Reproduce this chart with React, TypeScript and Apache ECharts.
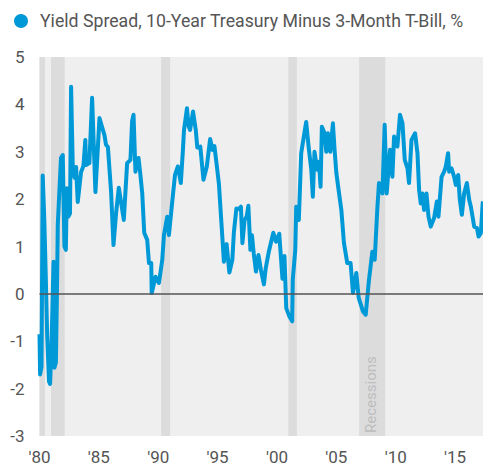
import React, { useEffect, useRef } from "react";
import * as echarts from "echarts";

const years = [
  1980.0, 1980.05, 1980.17, 1980.27, 1980.4, 1980.52, 1980.65, 1980.8, 1980.89, 1981.0,
  1981.18, 1981.26, 1981.38, 1981.46, 1981.54, 1981.68, 1981.81, 1981.96, 1982.1, 1982.22,
  1982.3, 1982.43, 1982.57, 1982.66, 1982.8, 1982.95, 1983.08, 1983.22, 1983.5, 1983.7,
  1983.86, 1983.92, 1984.2, 1984.43, 1984.71, 1985.05, 1985.27, 1985.47, 1985.6, 1985.76,
  1986.03, 1986.23, 1986.46, 1986.68, 1987.1, 1987.38, 1987.66, 1987.8, 1987.92, 1988.08,
  1988.34, 1988.48, 1988.65, 1988.82, 1989.07, 1989.22, 1989.41, 1989.45, 1989.77, 1990.06,
  1990.34, 1990.48, 1990.76, 1990.9, 1991.18, 1991.41, 1991.65, 1991.9, 1992.08, 1992.17,
  1992.42, 1992.55, 1992.68, 1992.93, 1993.16, 1993.29, 1993.54, 1993.81, 1994.09, 1994.37,
  1994.56, 1994.73, 1994.94, 1995.11, 1995.32, 1995.53, 1995.76, 1995.99, 1996.24, 1996.37,
  1996.58, 1996.79, 1996.96, 1997.09, 1997.27, 1997.45, 1997.59, 1997.76, 1997.89, 1998.04,
  1998.23, 1998.44, 1998.65, 1998.9, 1999.05, 1999.32, 1999.69, 1999.92, 2000.19, 2000.46,
  2000.63, 2000.78, 2001.05, 2001.28, 2001.33, 2001.54, 2001.62, 2001.84, 2002.04, 2002.26,
  2002.46, 2002.66, 2002.89, 2003.02, 2003.16, 2003.39, 2003.53, 2003.67, 2003.78, 2004.01,
  2004.15, 2004.29, 2004.49, 2004.71, 2004.85, 2005.0, 2005.19, 2005.42, 2005.64, 2005.92,
  2006.2, 2006.4, 2006.68, 2006.88, 2007.24, 2007.47, 2007.75, 2008.03, 2008.23, 2008.46,
  2008.59, 2008.88, 2009.07, 2009.24, 2009.52, 2009.72, 2009.86, 2010.14, 2010.36, 2010.57,
  2010.76, 2010.99, 2011.12, 2011.33, 2011.63, 2011.83, 2011.97, 2012.11, 2012.25, 2012.39,
  2012.59, 2012.76, 2012.95, 2013.23, 2013.46, 2013.6, 2013.86, 2014.08, 2014.22, 2014.41,
  2014.5, 2014.7, 2014.92, 2015.06, 2015.26, 2015.4, 2015.57, 2015.76, 2015.99, 2016.19,
  2016.33, 2016.61, 2016.84, 2016.98, 2017.17, 2017.32, 2017.35,
];

const spread = [
  -0.85, -1.7, -1.55, 2.5, 1.6, 0.45, -0.9, -1.85, -1.9, -1.2,
  0.68, -1.56, -1.45, -0.17, 1.46, 2.2, 2.87, 2.93, 1.0, 0.93,
  2.23, 1.63, 1.7, 4.37, 2.72, 2.45, 2.68, 1.94, 2.57, 2.7,
  3.25, 2.72, 2.76, 4.14, 2.15, 3.71, 3.52, 3.35, 3.15, 3.1,
  2.15, 1.03, 1.73, 2.24, 1.56, 2.76, 2.83, 3.65, 3.78, 2.58,
  2.87, 2.55, 2.13, 1.29, 1.14, 0.65, 0.65, 0.02, 0.36, 0.23,
  0.72, 1.24, 1.63, 1.24, 1.95, 2.51, 2.69, 2.34, 3.04, 3.46,
  3.92, 3.55, 3.46, 3.85, 3.46, 3.09, 3.11, 2.41, 2.69, 3.27,
  3.04, 3.12, 2.69, 2.32, 1.5, 0.68, 1.05, 0.45, 0.72, 1.3,
  1.8, 1.79, 1.84, 1.07, 1.56, 1.63, 1.86, 0.93, 1.24, 0.86,
  0.47, 0.82, 0.5, 0.2, 0.54, 0.9, 1.29, 1.1, 1.27, 0.32,
  0.8, -0.3, -0.48, -0.58, 0.3, 0.93, 1.84, 1.56, 2.97, 3.32,
  3.63, 3.11, 2.62, 2.05, 3.0, 2.62, 2.79, 2.26, 3.53, 3.39,
  3.0, 3.39, 3.0, 3.6, 3.04, 2.55, 2.19, 1.77, 1.07, 0.65,
  0.65, 0.02, 0.44, -0.08, -0.37, -0.44, 0.3, 0.89, 0.72, 1.84,
  2.34, 2.12, 3.57, 2.12, 3.04, 2.47, 3.32, 3.11, 3.78, 3.6,
  2.83, 2.65, 2.34, 3.25, 3.39, 2.97, 2.19, 1.91, 2.12, 1.77,
  2.12, 1.63, 1.42, 1.6, 1.95, 1.63, 2.47, 2.58, 2.69, 2.97,
  2.58, 2.65, 2.47, 2.3, 2.51, 1.98, 1.67, 2.12, 2.34, 1.98,
  1.84, 1.42, 1.39, 1.21, 1.28, 1.91, 1.95,
];

const recessionStart = [1980.0, 1980.97, 1990.24, 2000.96, 2006.92];
const recessionEnd = [1980.46, 1982.12, 1991.0, 2001.67, 2009.12];

const seriesName = "Yield Spread, 10-Year Treasury Minus 3-Month T-Bill, %";
const recessionLabel = "Recessions";

const FONT = "'Roboto', sans-serif";

export default function App() {
  const ref = useRef<HTMLDivElement>(null);
  useEffect(() => {
    if (!ref.current) return;
    const chart = echarts.init(ref.current, undefined, { renderer: "svg" });
    const data = years.map((y, i) => [y, spread[i]]);
    chart.setOption({
      animation: false,
      backgroundColor: "#ffffff",
      legend: {
        left: 9,
        top: 7,
        icon: "circle",
        itemWidth: 14,
        itemHeight: 14,
        textStyle: {
          color: "#555555",
          fontSize: 17.7,
          fontFamily: FONT,
          padding: [0, 0, 0, 7],
        },
        data: [seriesName],
      },
      grid: {
        left: 39.5,
        right: 0,
        top: 57,
        bottom: 30,
        show: true,
        backgroundColor: "#efefef",
        borderWidth: 0,
      },
      xAxis: {
        type: "value",
        min: 1980,
        max: 2017.35,
        interval: 5,
        axisLine: { show: false },
        axisTick: { show: false },
        splitLine: { show: false },
        axisLabel: {
          color: "#555555",
          fontSize: 17,
          fontFamily: FONT,
          margin: 12,
          showMaxLabel: false,
          formatter: (v: number) => "'" + String(Math.round(v)).slice(2),
        },
      },
      yAxis: {
        type: "value",
        min: -3,
        max: 5,
        interval: 1,
        axisLine: { show: false },
        axisTick: { show: false },
        splitLine: { show: false },
        axisLabel: { color: "#555555", fontSize: 17, fontFamily: FONT, margin: 15 },
      },
      graphic: [
        {
          type: "text",
          x: 371,
          y: 433,
          rotation: Math.PI / 2,
          z: 5,
          style: {
            text: recessionLabel,
            fill: "#bdbdbd",
            fontSize: 15,
            fontFamily: FONT,
            textAlign: "left",
            textVerticalAlign: "middle",
          },
        },
      ],
      series: [
        {
          name: seriesName,
          type: "line",
          data,
          showSymbol: false,
          symbol: "none",
          color: "#0099d8",
          lineStyle: { color: "#0099d8", width: 4, join: "round" },
          z: 3,
          markArea: {
            silent: true,
            itemStyle: { color: "#dcdcdd" },
            data: recessionStart.map((s, i) => [{ xAxis: s }, { xAxis: recessionEnd[i] }]),
          },
          markLine: {
            silent: true,
            symbol: "none",
            label: { show: false },
            lineStyle: { color: "#555555", width: 1.5, type: "solid" },
            data: [{ yAxis: 0 }],
          },
        },
      ],
    });
    return () => chart.dispose();
  }, []);
  return (
    <div
      ref={ref}
      style={{ position: "fixed", left: 0, top: 0, width: 483, height: 466 }}
    />
  );
}
